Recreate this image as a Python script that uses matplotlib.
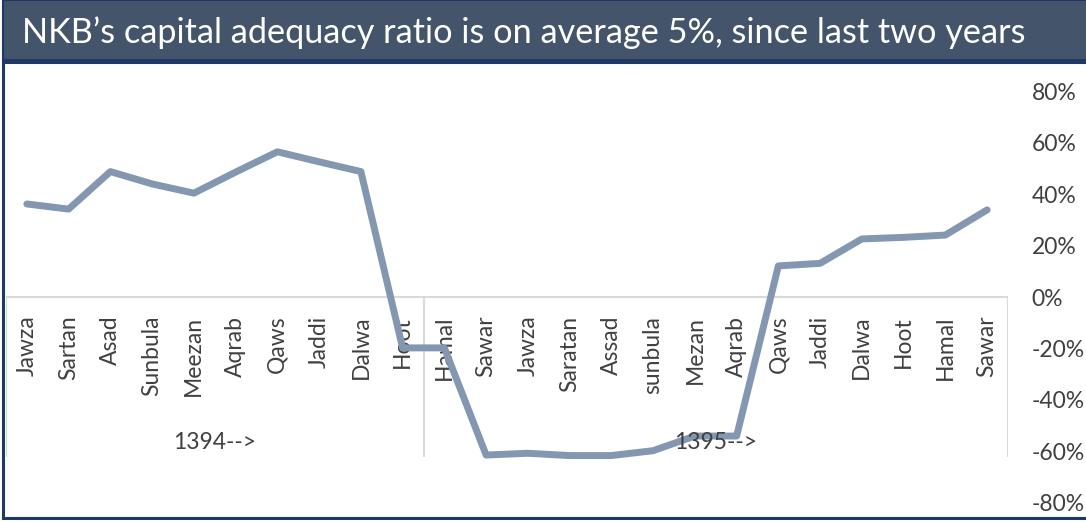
import matplotlib
matplotlib.use("Agg")
import matplotlib.pyplot as plt
from matplotlib.patches import Rectangle
from matplotlib.ticker import FuncFormatter

# ---- data ----
categories = ["Jawza", "Sartan", "Asad", "Sunbula", "Meezan", "Aqrab", "Qaws", "Jaddi",
              "Dalwa", "Hoot",
              "Hamal", "Sawar", "Jawza", "Saratan", "Assad", "sunbula", "Mezan", "Aqrab",
              "Qaws", "Jaddi", "Dalwa", "Hoot", "Hamal", "Sawar"]
car_values = [36.2, 34.2, 48.8, 44.0, 40.4, 48.6, 56.5, 52.6, 48.8, -19.8,
              -19.8, -61.5, -60.8, -61.7, -61.7, -59.8, -54.1, -54.1,
              12.1, 13.1, 22.6, 23.2, 24.1, 33.9]
year_labels = ["1394-->", "1395-->"]
year_sizes = [10, 14]
y_ticks = [-80, -60, -40, -20, 0, 20, 40, 60, 80]
title = "NKB\u2019s capital adequacy ratio is on average 5%, since last two years"

plt.rcParams['font.family'] = ['Lato', 'DejaVu Sans']

W, H = 1086, 522
fig = plt.figure(figsize=(W / 100, H / 100), dpi=100)

# ---- banner and frame ----
navy = "#1F3864"
banner = "#44546A"
fig.patches.append(Rectangle((3 / W, 1 - 60 / H), 1.0, 60 / H, transform=fig.transFigure,
                             facecolor=banner, edgecolor=navy, linewidth=1.5, zorder=-5))
fig.patches.append(Rectangle((3 / W, 4 / H), 1.0, (518 - 62) / H, transform=fig.transFigure,
                             facecolor="white", edgecolor=navy, linewidth=2.2, zorder=-5))
fig.text(22 / W, 1 - 33 / H, title, color="white", fontsize=24.7, ha="left", va="center")

# ---- axes ----
left_px, right_px = 6, 1008
zero_px, px_per_pct = 297, 2.57
top_px = zero_px - 80 * px_per_pct
bot_px = zero_px + 80 * px_per_pct
ax = fig.add_axes([left_px / W, 1 - bot_px / H, (right_px - left_px) / W, (bot_px - top_px) / H])
ax.set_facecolor("none")
n = len(categories)
x = list(range(n))
ax.set_xlim(-0.5, n - 0.5)
ax.set_ylim(-80, 80)
for s in ax.spines.values():
    s.set_visible(False)
ax.set_xticks([])
ax.yaxis.tick_right()
ax.set_yticks(y_ticks)
ax.yaxis.set_major_formatter(FuncFormatter(lambda v, p: f"{int(v)}%"))
ax.tick_params(axis="y", length=0, pad=17, labelsize=16.5, labelcolor="#404040")

grid_c = "#D9D9D9"
ax.axhline(0, color=grid_c, linewidth=1.5, zorder=1)
# group separators
sep_bottom = -(457 - zero_px) / px_per_pct
bounds = [-0.5]
acc = -0.5
for s in year_sizes:
    acc += s
    bounds.append(acc)
ax.vlines(bounds, sep_bottom, 0, color=grid_c, linewidth=1.5, zorder=1)

# category labels (beneath the line)
for i, c in enumerate(categories):
    ax.annotate(c, xy=(i, 0), xytext=(0, -13.5), textcoords="offset points",
                rotation=90, ha="center", va="top", fontsize=16.5, color="#404040", zorder=2)
# year labels (above the line)
for k, lab in enumerate(year_labels):
    xc = (bounds[k] + bounds[k + 1]) / 2
    ax.annotate(lab, xy=(xc, 0), xytext=(0, -146 / 1.389), textcoords="offset points",
                ha="center", va="center", fontsize=16.5, color="#404040", zorder=4)

ax.plot(x, car_values, color="#8497B0", linewidth=5, solid_capstyle="round",
        solid_joinstyle="round", zorder=3)

fig.savefig("out.png", dpi=100)
